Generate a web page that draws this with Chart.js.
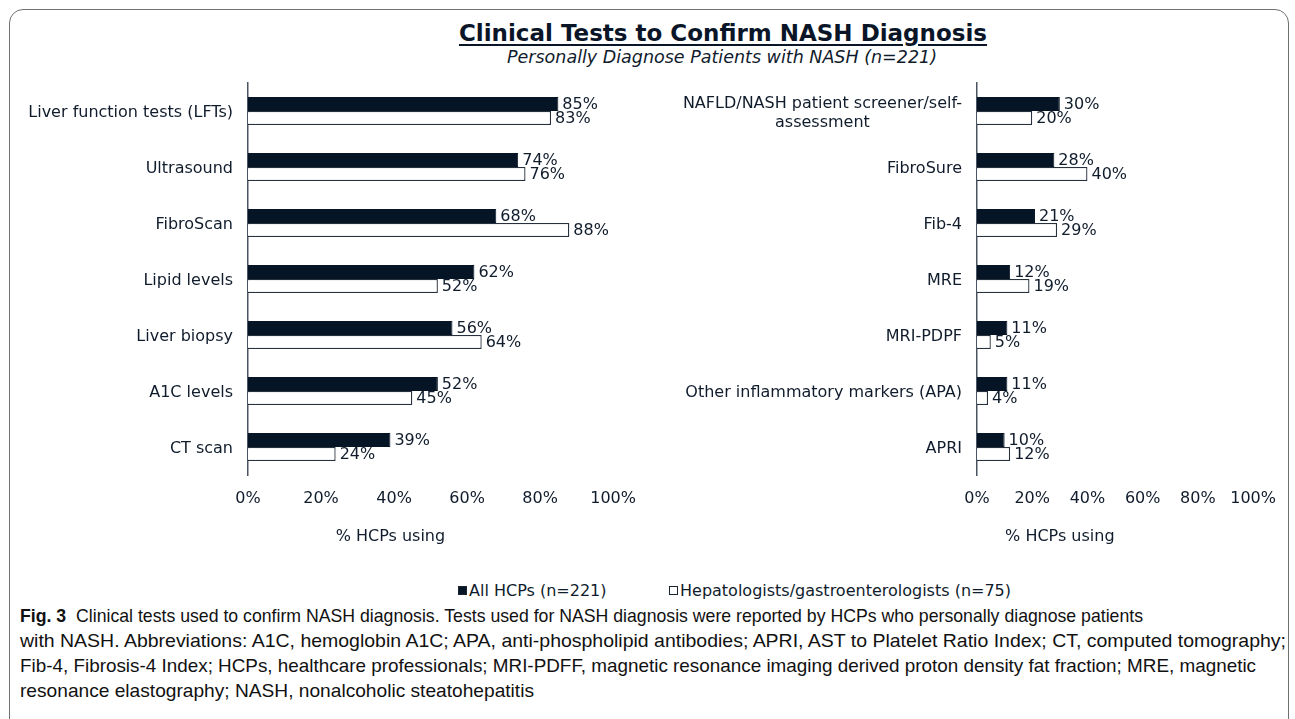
<!DOCTYPE html>
<html>
<head>
<meta charset="utf-8">
<script src="https://cdn.jsdelivr.net/npm/chart.js@4.4.0/dist/chart.umd.min.js"></script>
<style>
  body { margin:0; background:#fff; width:1295px; height:719px; overflow:hidden; position:relative; font-family:'DejaVu Sans', sans-serif; color:#101c2c; }
  #frame { position:absolute; left:9px; top:9px; width:1280px; height:740px; border:1.5px solid #707070; border-radius:14px; box-sizing:border-box; }
  #title { position:absolute; left:323px; width:800px; top:20px; text-align:center; font-weight:bold; font-size:23px; text-decoration:underline; text-underline-offset:3px; color:#0a1628; }
  #subtitle { position:absolute; left:322px; width:800px; top:47px; text-align:center; font-style:italic; font-size:17.5px; color:#101c2c; }
  #leftWrap { position:absolute; left:10px; top:70px; }
  #rightWrap { position:absolute; left:660px; top:70px; }
  .leg { position:absolute; top:582px; font-size:16px; white-space:nowrap; line-height:18px; }
  .sw { display:inline-block; width:9px; height:9px; margin-right:2px; vertical-align:1px; box-sizing:border-box; border:1px solid #1a2430; }
  #caption { position:absolute; left:20px; top:603px; font-family:'Liberation Sans',sans-serif; font-size:19px; line-height:25px; color:#111; white-space:nowrap; }
  #caption span { display:inline-block; transform-origin:0 0; }
</style>
</head>
<body>
<div id="frame"></div>
<div id="title">Clinical Tests to Confirm NASH Diagnosis</div>
<div id="subtitle">Personally Diagnose Patients with NASH (n=221)</div>
<div id="leftWrap"><canvas id="leftChart" width="640" height="490"></canvas></div>
<div id="rightWrap"><canvas id="rightChart" width="630" height="490"></canvas></div>
<div class="leg" style="left:458px"><span class="sw" style="background:#061525"></span>All HCPs (n=221)</div>
<div class="leg" style="left:669px"><span class="sw" style="background:#fff"></span>Hepatologists/gastroenterologists (n=75)</div>
<div id="caption">
<span data-w="1123"><b>Fig. 3</b>&nbsp; Clinical tests used to confirm NASH diagnosis. Tests used for NASH diagnosis were reported by HCPs who personally diagnose patients</span><br>
<span data-w="1266">with NASH. Abbreviations: A1C, hemoglobin A1C; APA, anti-phospholipid antibodies; APRI, AST to Platelet Ratio Index; CT, computed tomography;</span><br>
<span data-w="1236">Fib-4, Fibrosis-4 Index; HCPs, healthcare professionals; MRI-PDFF, magnetic resonance imaging derived proton density fat fraction; MRE, magnetic</span><br>
<span data-w="514">resonance elastography; NASH, nonalcoholic steatohepatitis</span>
</div>
<script>
// left panel
const leftLabels = ['Liver function tests (LFTs)', 'Ultrasound', 'FibroScan', 'Lipid levels', 'Liver biopsy', 'A1C levels', 'CT scan'];
const leftAll = [85, 74, 68, 62, 56, 52, 39];
const leftHep = [83, 76, 88, 52, 64, 45, 24];

// right panel
const rightLabels = [['NAFLD/NASH patient screener/self-', 'assessment'], 'FibroSure', 'Fib-4', 'MRE', 'MRI-PDPF', 'Other inflammatory markers (APA)', 'APRI'];
const rightAll = [30, 28, 21, 12, 11, 11, 10];
const rightHep = [20, 40, 29, 19, 5, 4, 12];

const xTicks = [0, 20, 40, 60, 80, 100];
const seriesNames = ['All HCPs (n=221)', 'Hepatologists/gastroenterologists (n=75)'];

const navy = '#061525';
const textColor = '#101c2c';

Chart.defaults.font.family = "'DejaVu Sans', sans-serif";
Chart.defaults.font.size = 16;
Chart.defaults.color = textColor;

// squeeze caption lines to the widths of the original (condensed font there)
document.querySelectorAll('#caption span[data-w]').forEach(s => {
    const w = s.getBoundingClientRect().width;
    s.style.transform = 'scaleX(' + (+s.dataset.w / w) + ')';
});

// value labels at end of each bar
const barValues = {
    id: 'barValues',
    afterDatasetsDraw(chart) {
        const ctx = chart.ctx;
        ctx.save();
        ctx.font = "16px 'DejaVu Sans'";
        ctx.fillStyle = textColor;
        ctx.textAlign = 'left';
        ctx.textBaseline = 'middle';
        chart.data.datasets.forEach((ds, i) => {
            chart.getDatasetMeta(i).data.forEach((bar, j) => {
                ctx.fillText(ds.data[j] + '%', bar.x + 4, bar.y + 1);
            });
        });
        ctx.restore();
    }
};

// category labels: block right-aligned, lines centred inside block (like Excel)
const yLabels = {
    id: 'yLabels',
    afterDraw(chart) {
        const ctx = chart.ctx;
        const yScale = chart.scales.y;
        const right = chart.chartArea.left - 15;
        ctx.save();
        ctx.font = "16px 'DejaVu Sans'";
        ctx.fillStyle = textColor;
        ctx.textAlign = 'center';
        ctx.textBaseline = 'middle';
        chart.data.labels.forEach((lab, i) => {
            const lines = Array.isArray(lab) ? lab : [lab];
            const w = Math.max(...lines.map(l => ctx.measureText(l).width));
            const y = yScale.getPixelForValue(i);
            lines.forEach((l, k) => {
                ctx.fillText(l, right - w / 2, y + 2 + (k - (lines.length - 1) / 2) * 19);
            });
        });
        ctx.restore();
    }
};

const axisTitle = {
    id: 'axisTitle',
    afterDraw(chart, args, opts) {
        const a = chart.chartArea;
        const ctx = chart.ctx;
        ctx.save();
        ctx.font = "16px 'DejaVu Sans'";
        ctx.fillStyle = textColor;
        ctx.textAlign = 'center';
        ctx.textBaseline = 'middle';
        ctx.fillText(opts.text, a.left + opts.frac * (a.right - a.left), a.bottom + 62);
        ctx.restore();
    }
};

function makeChart(id, labels, allVals, hepVals, axisWidth, frac) {
    return new Chart(document.getElementById(id), {
        type: 'bar',
        data: {
            labels: labels,
            datasets: [
                { label: seriesNames[0], data: allVals, backgroundColor: navy, borderColor: navy, borderWidth: 1 },
                { label: seriesNames[1], data: hepVals, backgroundColor: '#ffffff', borderColor: '#27313d', borderWidth: 1.3 }
            ]
        },
        options: {
            indexAxis: 'y',
            responsive: false,
            animation: false,
            layout: { padding: { top: 13, right: 35, left: 0, bottom: 0 } },
            datasets: { bar: { categoryPercentage: 0.5, barPercentage: 1.0 } },
            plugins: {
                legend: { display: false },
                tooltip: { enabled: false },
                axisTitle: { text: '% HCPs using', frac: frac }
            },
            scales: {
                x: {
                    min: xTicks[0],
                    max: xTicks[xTicks.length - 1],
                    afterBuildTicks: s => { s.ticks = xTicks.map(v => ({ value: v })); },
                    ticks: { callback: v => v + '%', padding: 14 },
                    grid: { display: false, drawTicks: false },
                    border: { display: false },
                    afterFit: s => { s.height = 85; }
                },
                y: {
                    ticks: { display: false },
                    grid: { display: false },
                    border: { display: true, color: '#4a5561', width: 1.5 },
                    afterFit: s => { s.width = axisWidth; }
                }
            }
        },
        plugins: [barValues, yLabels, axisTitle]
    });
}

makeChart('leftChart', leftLabels, leftAll, leftHep, 238, 0.39);
makeChart('rightChart', rightLabels, rightAll, rightHep, 317, 0.30);
</script>
</body>
</html>
